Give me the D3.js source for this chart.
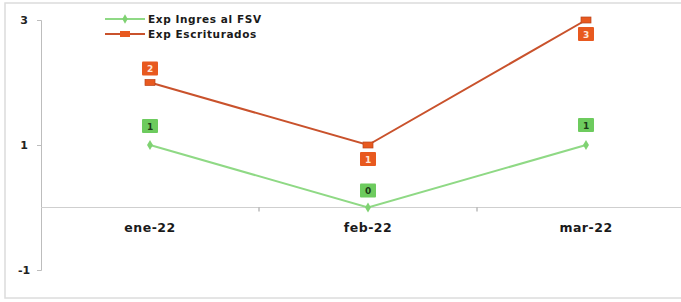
<!DOCTYPE html>
<html>
<head>
<meta charset="utf-8">
<script src="https://cdn.jsdelivr.net/npm/d3@7"></script>
<style>
  body { margin: 0; background: #fff; }
  text { font-family: "DejaVu Sans", sans-serif; }
</style>
</head>
<body>
<div id="chart"></div>
<script>
// data
let months = ["ene-22", "feb-22", "mar-22"];
let ingresFSV = [1, 0, 1];
let escriturados = [2, 1, 3];
let yTicks = [-1, 1, 3];

let width = 681,
    height = 302;

let x = d3.scaleBand().domain(months).range([41, 695]);
let y = d3.scaleLinear().domain([-1, 3]).range([270, 20]);

let svg = d3.select("#chart")
      .append("svg")
      .attr("width", width)
      .attr("height", height);

// frame of the scanned sheet
svg.append("rect")
    .attr("x", 5).attr("y", 3)
    .attr("width", width + 10).attr("height", 295)
    .style("fill", "none")
    .style("stroke", "#dcdcdc")
    .style("stroke-width", 1.5);

// y axis
let yAxis = d3.axisLeft(y).tickValues(yTicks).tickSize(4).tickFormat(d => String(d));
let gy = svg.append("g")
      .attr("transform", "translate(" + x.range()[0] + ",0)")
      .call(yAxis);
gy.select(".domain").style("stroke", "#bdbdbd");
gy.selectAll(".tick line").style("stroke", "#bdbdbd");
gy.selectAll(".tick text")
    .attr("x", -17)
    .style("text-anchor", "middle")
    .style("font-size", "11px")
    .style("font-weight", "bold")
    .style("fill", "#222");

// x axis on zero line
let gx = svg.append("g")
      .attr("transform", "translate(0," + y(0) + ")");
gx.append("line")
    .attr("x1", x.range()[0]).attr("x2", x.range()[1])
    .style("stroke", "#cfcfcf")
    .style("stroke-width", 1.2);
gx.selectAll(".sep")
    .data(months.slice(1))
    .enter().append("line")
    .attr("class", "sep")
    .attr("x1", d => x(d)).attr("x2", d => x(d))
    .attr("y1", 0).attr("y2", 4)
    .style("stroke", "#999");
gx.selectAll(".lbl")
    .data(months)
    .enter().append("text")
    .attr("class", "lbl")
    .attr("x", d => x(d) + x.bandwidth() / 2)
    .attr("y", 24)
    .attr("text-anchor", "middle")
    .style("font-size", "12.5px")
    .style("font-weight", "bold")
    .style("letter-spacing", "0.5px")
    .style("fill", "#1a1a1a")
    .text(d => d);

let cx = d => x(d) + x.bandwidth() / 2;
let line = d3.line()
      .x((d, i) => cx(months[i]))
      .y(d => y(d));

let greenLine = "#8fd985",
    greenBox = "#6dcb5e",
    redLine = "#c9522c",
    redBox = "#e8591f";

// series lines
svg.append("path")
    .datum(ingresFSV)
    .attr("d", line)
    .style("fill", "none")
    .style("stroke", greenLine)
    .style("stroke-width", 2);

svg.append("path")
    .datum(escriturados)
    .attr("d", line)
    .style("fill", "none")
    .style("stroke", redLine)
    .style("stroke-width", 2);

// markers
svg.selectAll(".gm")
    .data(ingresFSV)
    .enter().append("path")
    .attr("class", "gm")
    .attr("transform", (d, i) => "translate(" + cx(months[i]) + "," + y(d) + ")")
    .attr("d", d3.symbol().type(d3.symbolDiamond).size(30))
    .style("fill", "#7fd272");

svg.selectAll(".rm")
    .data(escriturados)
    .enter().append("rect")
    .attr("class", "rm")
    .attr("x", (d, i) => cx(months[i]) - 5)
    .attr("y", d => y(d) - 3)
    .attr("width", 10)
    .attr("height", 6)
    .style("fill", redBox)
    .style("stroke", "#b8441c")
    .style("stroke-width", 0.7);

// data labels: offset above (-) or below (+) the point
let greenOffset = [-19, -17, -20];
let redOffset = [-14, 14, 14];

function labels(data, offsets, fill, textFill, cls) {
  let g = svg.selectAll("." + cls)
        .data(data)
        .enter().append("g")
        .attr("class", cls)
        .attr("transform", (d, i) => "translate(" + cx(months[i]) + "," + (y(d) + offsets[i]) + ")");
  g.append("rect")
      .attr("x", -8).attr("y", -7)
      .attr("width", 16).attr("height", 14)
      .attr("rx", 1)
      .style("fill", fill);
  g.append("text")
      .attr("y", 3.5)
      .attr("text-anchor", "middle")
      .style("font-size", "9px")
      .style("font-weight", "bold")
      .style("fill", textFill)
      .text(d => d);
}
labels(ingresFSV, greenOffset, greenBox, "#1d3a18", "gl");
labels(escriturados, redOffset, redBox, "#ffe6d8", "rl");

// legend
let legend = [
  { name: "Exp Ingres al FSV", color: greenLine, marker: "diamond" },
  { name: "Exp Escriturados", color: redLine, marker: "rect" }
];
let lg = svg.selectAll(".legend")
      .data(legend)
      .enter().append("g")
      .attr("class", "legend")
      .attr("transform", (d, i) => "translate(105," + (19 + i * 15) + ")");
lg.append("line")
    .attr("x1", 0).attr("x2", 40)
    .style("stroke", d => d.color)
    .style("stroke-width", 2);
lg.filter(d => d.marker === "diamond").append("path")
    .attr("transform", "translate(20,0)")
    .attr("d", d3.symbol().type(d3.symbolDiamond).size(25))
    .style("fill", "#7fd272");
lg.filter(d => d.marker === "rect").append("rect")
    .attr("x", 15).attr("y", -3)
    .attr("width", 10).attr("height", 6)
    .style("fill", redBox);
lg.append("text")
    .attr("x", 43)
    .attr("y", 4)
    .style("font-size", "10.5px")
    .style("font-weight", "bold")
    .style("letter-spacing", "0.6px")
    .style("fill", "#1a1a1a")
    .text(d => d.name);
</script>
</body>
</html>
